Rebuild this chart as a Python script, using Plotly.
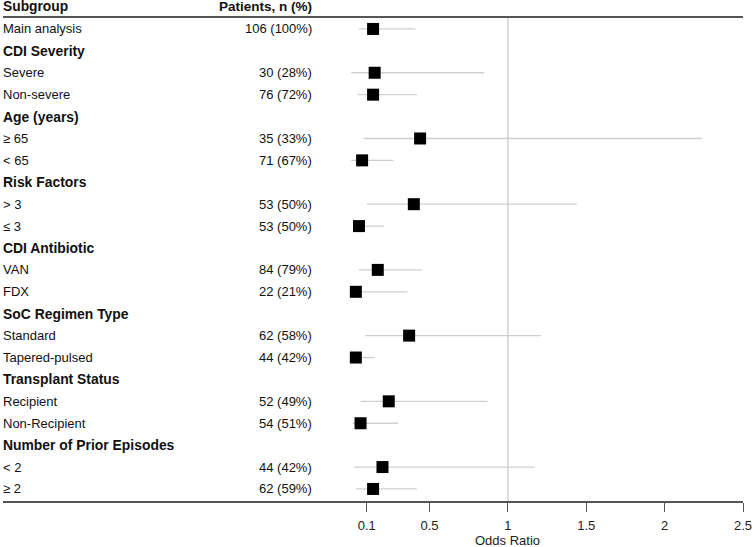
import plotly.graph_objects as go

labels = ["Main analysis", "CDI Severity", "Severe", "Non-severe", "Age (years)", "≥ 65", "< 65",
          "Risk Factors", "> 3", "≤ 3", "CDI Antibiotic", "VAN", "FDX", "SoC Regimen Type",
          "Standard", "Tapered-pulsed", "Transplant Status", "Recipient", "Non-Recipient",
          "Number of Prior Episodes", "< 2", "≥ 2"]
is_header = [False, True, False, False, True, False, False, True, False, False, True, False, False,
             True, False, False, True, False, False, True, False, False]
patients = ["106 (100%)", "", "30 (28%)", "76 (72%)", "", "35 (33%)", "71 (67%)", "", "53 (50%)",
            "53 (50%)", "", "84 (79%)", "22 (21%)", "", "62 (58%)", "44 (42%)", "", "52 (49%)",
            "54 (51%)", "", "44 (42%)", "62 (59%)"]
odds_ratio = [0.14, None, 0.15, 0.14, None, 0.44, 0.07, None, 0.40, 0.05, None, 0.17, 0.03, None,
              0.37, 0.03, None, 0.24, 0.06, None, 0.20, 0.14]
ci_low = [0.05, None, 0.0, 0.04, None, 0.08, 0.0, None, 0.10, 0.01, None, 0.05, 0.01, None,
          0.09, 0.01, None, 0.06, 0.01, None, 0.02, 0.03]
ci_high = [0.41, None, 0.85, 0.42, None, 2.24, 0.27, None, 1.44, 0.21, None, 0.45, 0.36, None,
           1.21, 0.15, None, 0.87, 0.30, None, 1.17, 0.42]
tick_vals = [0.1, 0.5, 1, 1.5, 2, 2.5]
tick_text = ["0.1", "0.5", "1", "1.5", "2", "2.5"]
col_headers = ["Subgroup", "Patients, n (%)"]
x_title = "Odds Ratio"

FONT = "Liberation Sans, Arial, sans-serif"

xs, ys, plus, minus = [], [], [], []
for i, (o, lo, hi) in enumerate(zip(odds_ratio, ci_low, ci_high)):
    if o is None:
        continue
    xs.append(o)
    ys.append(i)
    plus.append(hi - o)
    minus.append(o - lo)

fig = go.Figure()
fig.add_trace(go.Scatter(
    x=xs, y=ys, mode="markers",
    marker=dict(symbol="square", size=12, color="black"),
    error_x=dict(type="data", symmetric=False, array=plus, arrayminus=minus,
                 color="#cfcfcf", thickness=1.3, width=0),
    showlegend=False, hoverinfo="x+y", cliponaxis=False,
))

label_x = -2 / 740
count_x = (314 - 3) / 740
header_y = (501 - 7) / 483
annotations = []
annotations.append(dict(x=label_x, y=header_y, xref="paper", yref="paper",
                        text=f"<b>{col_headers[0]}</b>",
                        xanchor="left", yanchor="middle", showarrow=False,
                        font=dict(size=13.8, color="#111", family=FONT)))
annotations.append(dict(x=count_x, y=header_y, xref="paper", yref="paper",
                        text=f"<b>{col_headers[1]}</b>", xanchor="right", yanchor="middle",
                        showarrow=False, font=dict(size=13.5, color="#111", family=FONT)))
for i, lab in enumerate(labels):
    txt = f"<b>{lab}</b>" if is_header[i] else lab
    annotations.append(dict(x=label_x, y=i, xref="paper", yref="y", text=txt, xanchor="left",
                            yanchor="middle", showarrow=False,
                            font=dict(size=13.9 if is_header[i] else 13, color="#111", family=FONT)))
    if patients[i]:
        annotations.append(dict(x=count_x, y=i, xref="paper", yref="y", text=patients[i],
                                xanchor="right", yanchor="middle", showarrow=False,
                                font=dict(size=13, color="#111", family=FONT)))
annotations.append(dict(x=1, y=-39 / 483, xref="x", yref="paper", text=x_title,
                        xanchor="center", yanchor="middle", showarrow=False,
                        font=dict(size=13, color="#222", family=FONT)))

fig.update_layout(
    width=754, height=547,
    margin=dict(l=3, r=11, t=18, b=46, autoexpand=False),
    plot_bgcolor="white", paper_bgcolor="white",
    font=dict(family=FONT, size=13, color="#222"),
    annotations=annotations,
    shapes=[dict(type="line", xref="x", yref="paper", x0=1, x1=1, y0=0, y1=1,
                 line=dict(color="#d3d3d3", width=1.5), layer="below")],
    xaxis=dict(range=[-2.221, 2.5], tickvals=tick_vals, ticktext=tick_text,
               showgrid=False, zeroline=False, showline=True, mirror=True,
               linecolor="#555", linewidth=1.5, ticks="outside", ticklen=9,
               tickcolor="#555", tickwidth=1, tickfont=dict(size=13, color="#222"),
               ticklabelstandoff=3, automargin=False),
    yaxis=dict(range=[21.55, -0.5], visible=False, showgrid=False, zeroline=False,
               automargin=False),
)

fig.write_html("out.html", config={"displayModeBar": False},
               post_script="document.body.style.margin='0';document.body.style.overflow='hidden';")
